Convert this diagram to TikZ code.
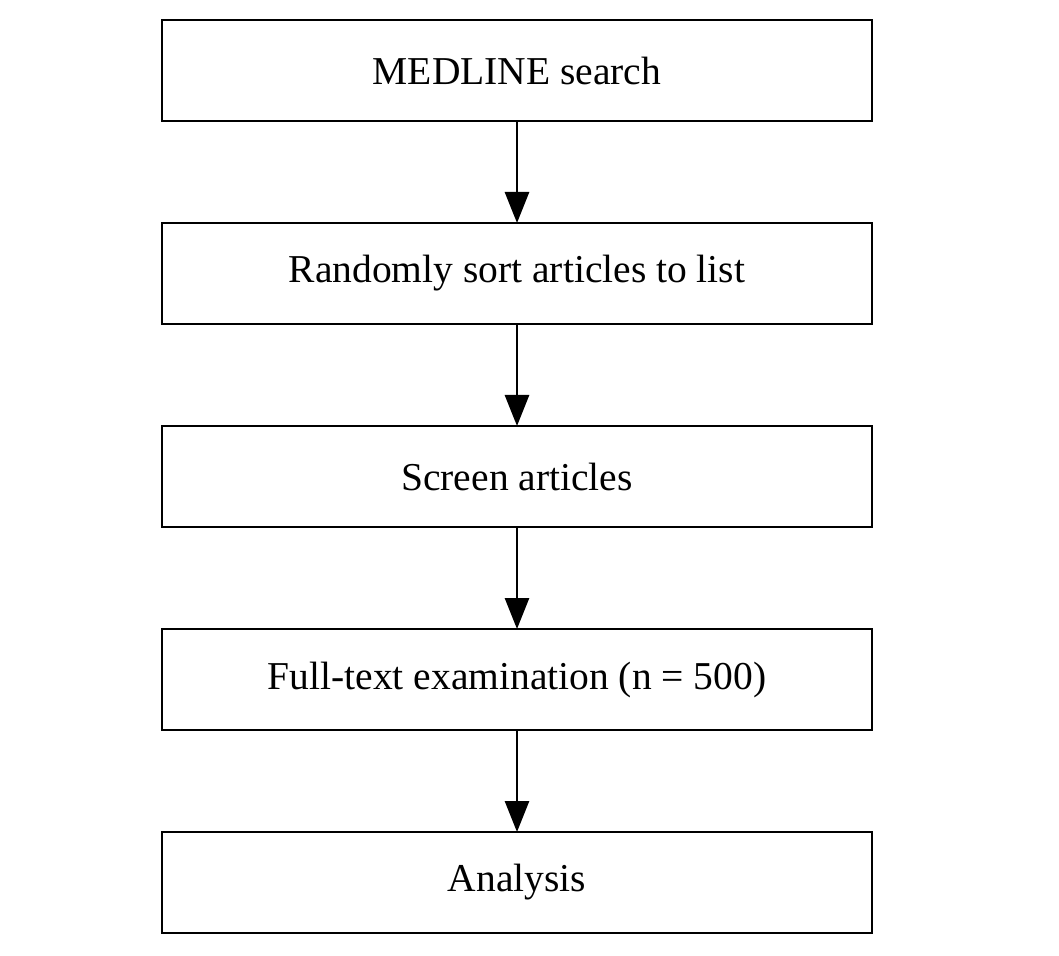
\documentclass[tikz,border=0pt]{standalone}
\usepackage{fontspec}
\setmainfont{Liberation Serif}
\usetikzlibrary{positioning,arrows.meta}
\begin{document}
\begin{tikzpicture}[x=0.5pt,y=-0.5pt,
		stepbox/.style={draw,line width=1.4pt,rectangle,minimum width=355pt,minimum height=50.5pt,outer sep=0pt,font=\fontsize{19.75pt}{23pt}\selectfont},
		flowarrow/.style={line width=1.4pt,-{Triangle[length=15.5pt,width=12pt]}},
		node distance=51pt]
			\useasboundingbox (0,0) rectangle (1059,956);
			%steps
			\node[stepbox] (search) at (517,70.5) {MEDLINE search};
			\node[stepbox,below=of search] (sort) {Randomly sort articles to list};
			\node[stepbox,below=of sort] (screen) {Screen articles};
			\node[stepbox,below=of screen] (fulltext) {Full-text examination (n = 500)};
			\node[stepbox,below=of fulltext] (analysis) {Analysis};
			%arrows
			\draw[flowarrow] (search) -- (sort);
			\draw[flowarrow] (sort) -- (screen);
			\draw[flowarrow] (screen) -- (fulltext);
			\draw[flowarrow] (fulltext) -- (analysis);
		\end{tikzpicture}
\end{document}
